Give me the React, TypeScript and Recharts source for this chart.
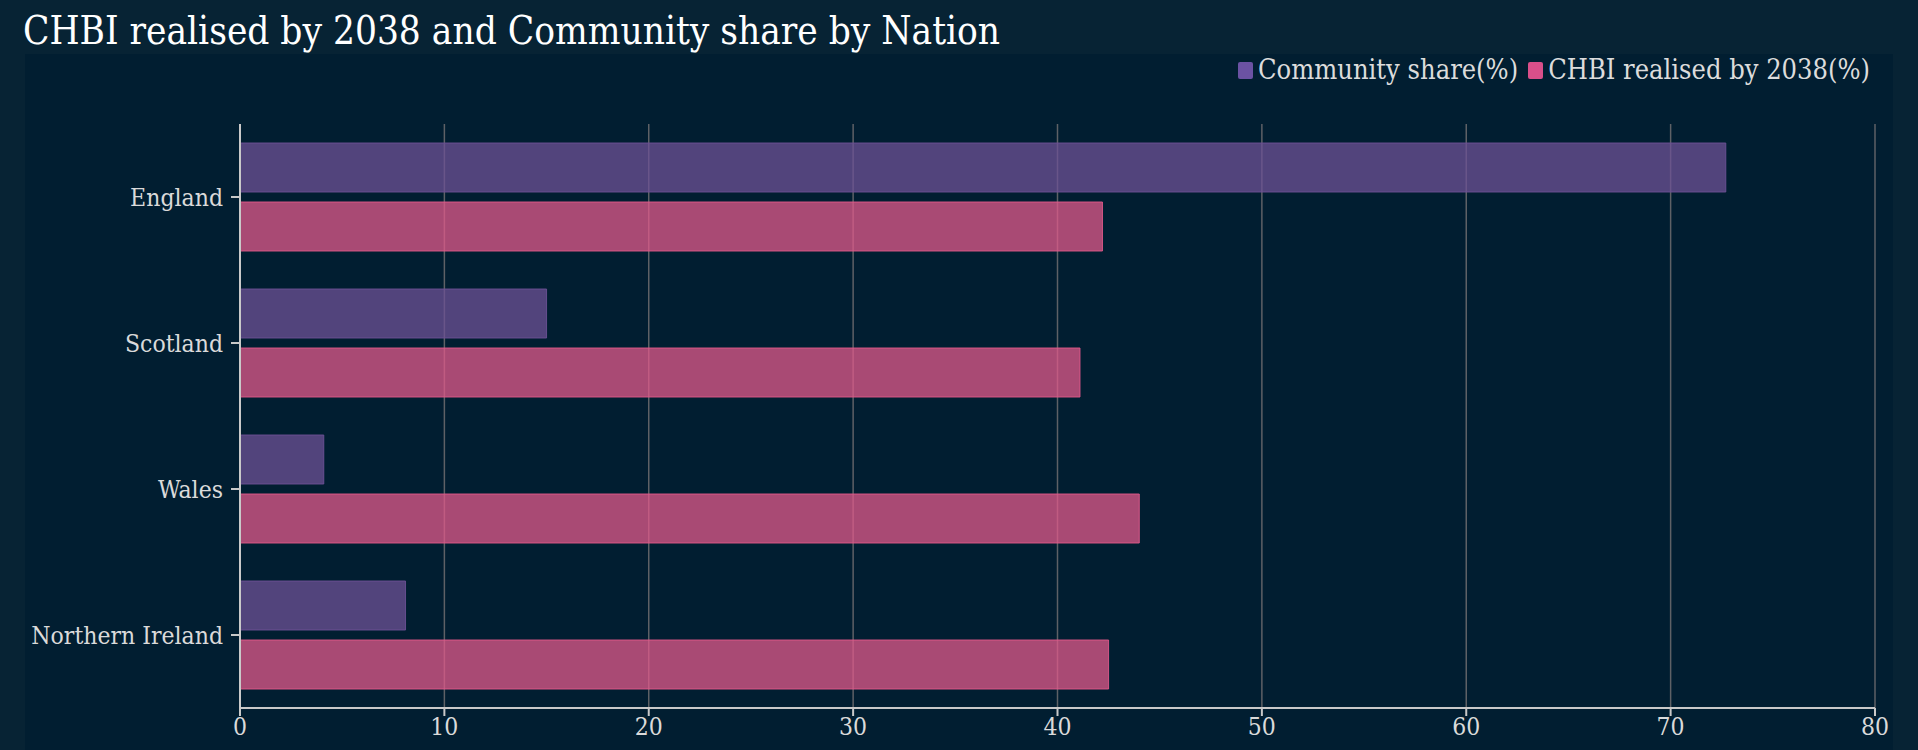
import React from "react";
import { BarChart, Bar, XAxis, YAxis, CartesianGrid } from "recharts";

const nations = ["England", "Scotland", "Wales", "Northern Ireland"];
const communityShare = [72.7, 15.0, 4.1, 8.1];
const chbiRealised = [42.2, 41.1, 44.0, 42.5];
const xTicks = [0, 10, 20, 30, 40, 50, 60, 70, 80];

const seriesNames = ["Community share(%)", "CHBI realised by 2038(%)"];
const legendColors = ["#6b52a3", "#d94f8a"];

const data = nations.map((n, i) => ({
  nation: n,
  community: communityShare[i],
  chbi: chbiRealised[i],
}));

const FONT = "'DejaVu Serif', serif";
const tickStyle = {
  fill: "#dadada",
  fontSize: 24.5,
  fontFamily: FONT,
  fontStretch: "condensed",
};

export default function App() {
  return (
    <div
      style={{
        position: "absolute",
        left: 0,
        top: 0,
        width: 1918,
        height: 750,
        background: "#072334",
        overflow: "hidden",
        fontFamily: FONT,
      }}
    >
      <div
        style={{
          position: "absolute",
          left: 25,
          top: 54,
          width: 1868,
          height: 696,
          background: "#011e31",
        }}
      />
      <div
        style={{
          position: "absolute",
          left: 23,
          top: 7,
          color: "#ffffff",
          fontSize: 38.4,
          fontStretch: "condensed",
          whiteSpace: "nowrap",
          lineHeight: "48px",
        }}
      >
        CHBI realised by 2038 and Community share by Nation
      </div>
      <div
        style={{
          position: "absolute",
          right: 48,
          top: 54,
          display: "flex",
          alignItems: "center",
          color: "#dcdcdc",
          fontSize: 27,
          fontStretch: "condensed",
          whiteSpace: "nowrap",
          lineHeight: "32px",
        }}
      >
        {seriesNames.map((s, i) => (
          <div key={s} style={{ display: "flex", alignItems: "center", marginLeft: i ? 10 : 0 }}>
            <span
              style={{
                display: "inline-block",
                width: 15,
                height: 17,
                borderRadius: 2,
                background: legendColors[i],
                marginRight: 5,
              }}
            />
            <span>{s}</span>
          </div>
        ))}
      </div>
      <div style={{ position: "absolute", left: 0, top: 0 }}>
        <BarChart
          width={1918}
          height={750}
          data={data}
          layout="vertical"
          margin={{ top: 124, right: 43, bottom: 0, left: 0 }}
          barSize={49}
          barGap={10}
        >
          <CartesianGrid horizontal={false} stroke="#5e6166" strokeWidth={1.5} />
          <XAxis
            type="number"
            domain={[0, 80]}
            ticks={xTicks}
            height={42}
            stroke="#c9c9c9"
            strokeWidth={2}
            tickSize={8}
            tickMargin={2}
            tick={tickStyle}
          />
          <YAxis
            type="category"
            dataKey="nation"
            width={240}
            stroke="#c9c9c9"
            strokeWidth={2}
            tickSize={9}
            tickMargin={8}
            tick={tickStyle}
          />
          <Bar
            dataKey="community"
            name={seriesNames[0]}
            fill="#6d5195"
            fillOpacity={0.75}
            stroke="#6d5195"
            strokeOpacity={0.9}
            isAnimationActive={false}
          />
          <Bar
            dataKey="chbi"
            name={seriesNames[1]}
            fill="#e1598b"
            fillOpacity={0.75}
            stroke="#e1598b"
            strokeOpacity={0.9}
            isAnimationActive={false}
          />
        </BarChart>
      </div>
    </div>
  );
}
